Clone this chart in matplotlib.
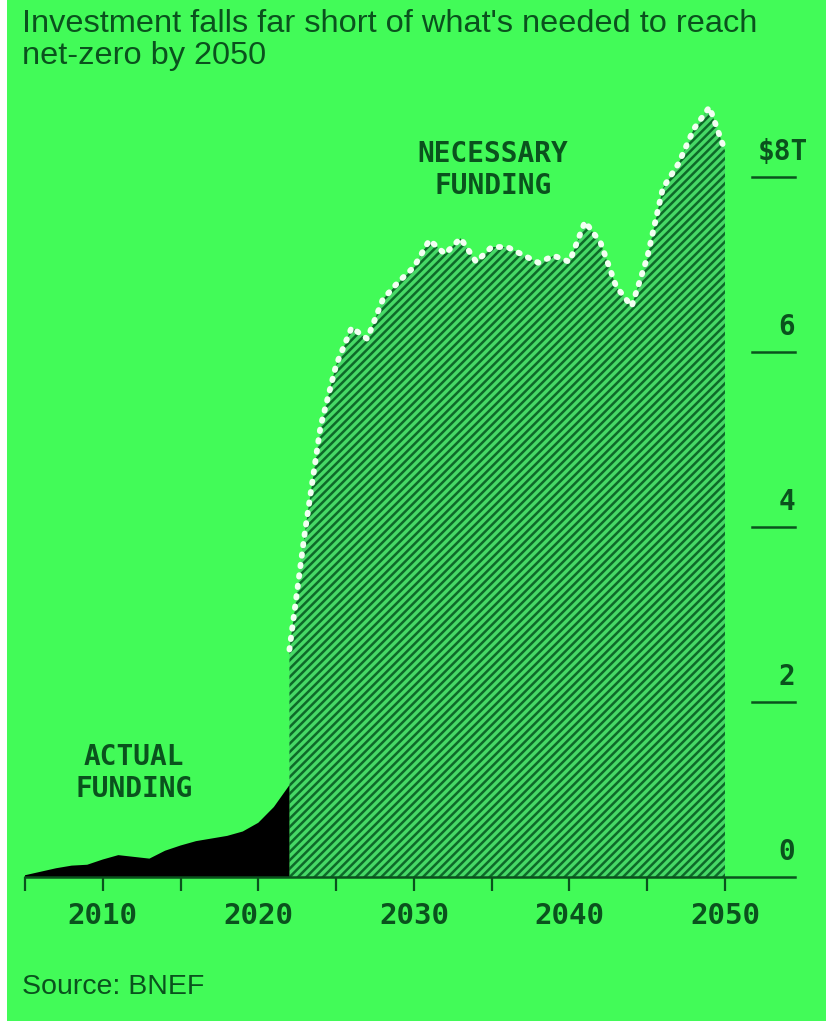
import matplotlib
matplotlib.use("Agg")
import matplotlib.pyplot as plt
from matplotlib.patches import Rectangle
from matplotlib.transforms import offset_copy

# Colours
BG = '#42fb58'
INK = '#0a521d'
HATCH_BG = '#46d966'
HATCH_INK = '#0d6a29'

# Data (trillions of USD)
actual_years = [2005, 2006, 2007, 2008, 2009, 2010, 2011, 2012, 2013, 2014,
                2015, 2016, 2017, 2018, 2019, 2020, 2021, 2022]
actual_values = [0.02, 0.06, 0.10, 0.13, 0.14, 0.20, 0.25, 0.23, 0.21, 0.30,
                 0.36, 0.41, 0.44, 0.47, 0.52, 0.62, 0.80, 1.05]

needed_years = [2022, 2023, 2024, 2025, 2026, 2027, 2028, 2029, 2030, 2031,
                2032, 2033, 2034, 2035, 2036, 2037, 2038, 2039, 2040, 2041,
                2042, 2043, 2044, 2045, 2046, 2047, 2048, 2049, 2050]
needed_values = [2.60, 3.95, 5.15, 5.85, 6.28, 6.15, 6.60, 6.80, 6.97, 7.28,
                 7.12, 7.30, 7.03, 7.20, 7.20, 7.11, 7.02, 7.10, 7.03, 7.49,
                 7.25, 6.75, 6.52, 7.08, 7.87, 8.15, 8.55, 8.80, 8.30]

x_ticks = [2005, 2010, 2015, 2020, 2025, 2030, 2035, 2040, 2045, 2050]
x_labels = ['', '2010', '', '2020', '', '2030', '', '2040', '', '2050']
y_ticks = [0, 2, 4, 6, 8]
y_labels = ['0', '2', '4', '6', '$8T']

plt.rcParams['hatch.color'] = HATCH_INK
plt.rcParams['hatch.linewidth'] = 1.8

W, H = 826, 1021
fig = plt.figure(figsize=(W / 100, H / 100), dpi=100, facecolor=BG)
fig.patches.append(Rectangle((0, 0), 7 / W, 1, transform=fig.transFigure,
                             facecolor='white', edgecolor='none', zorder=-1))

# axes: x 25..795 px, y 89.5..877 px
x_left, x_right, y_top, y_base = 25, 795, 89.5, 877
ax = fig.add_axes([x_left / W, 1 - y_base / H, (x_right - x_left) / W, (y_base - y_top) / H])
ax.set_facecolor(BG)
px_per_year = 700 / 45
ax.set_xlim(2005, 2005 + (x_right - x_left) / px_per_year)
ax.set_ylim(0, 9.0)

# filled areas
ax.fill_between(needed_years, 0, needed_values, facecolor=HATCH_BG,
                edgecolor=HATCH_INK, hatch='////', linewidth=0, zorder=2)
ax.fill_between(actual_years, 0, actual_values, facecolor='black',
                edgecolor='none', linewidth=0, zorder=3)
ax.plot(needed_years, needed_values, color='#f2fff2', linewidth=4.2,
        linestyle=(0, (0.25, 1.55)), dash_capstyle='round', zorder=4, clip_on=False)

# spines / ticks
for s in ['top', 'right', 'left']:
    ax.spines[s].set_visible(False)
ax.spines['bottom'].set_color(INK)
ax.spines['bottom'].set_linewidth(1.8)
ax.spines['bottom'].set_zorder(5)
ax.set_yticks([])
ax.set_xticks(x_ticks)
ax.set_xticklabels(x_labels)
ax.tick_params(axis='x', direction='out', length=10, width=1.6, color=INK,
               pad=8, labelsize=21, labelcolor=INK)
for lab in ax.get_xticklabels():
    lab.set_fontfamily('DejaVu Sans Mono')
    lab.set_fontweight('bold')

# right-hand value labels with short rules
x_end = ax.get_xlim()[1]
x_rule = 2005 + (752 - x_left) / px_per_year
for v, lab in zip(y_ticks, y_labels):
    if v > 0:
        ax.plot([x_rule, x_end], [v, v], color=INK, linewidth=1.8, clip_on=False)
    # the unit label hangs past the rule so its digit lines up with the others
    shift = 13 if lab.endswith('T') else 0
    tr = offset_copy(ax.transData, fig=fig, x=shift, y=0, units='dots')
    ax.text(x_end, v + 0.13, lab, ha='right', va='bottom', fontsize=20,
            color=INK, family='DejaVu Sans Mono', fontweight='bold',
            transform=tr, clip_on=False)

# annotations
ax.text(2035.1, 8.08, 'NECESSARY\nFUNDING', ha='center', va='center',
        multialignment='center', fontsize=20, color=INK,
        family='DejaVu Sans Mono', fontweight='bold', linespacing=1.15)
ax.text(2012.0, 1.19, 'ACTUAL\nFUNDING', ha='center', va='center',
        multialignment='center', fontsize=20, color=INK,
        family='DejaVu Sans Mono', fontweight='bold', linespacing=1.15)

# title and source
fig.text(22 / W, 1 - 9 / H, "Investment falls far short of what's needed to reach\nnet-zero by 2050",
         ha='left', va='top', fontsize=23.4, color=INK, family='Liberation Sans',
         linespacing=1.1)
fig.text(22 / W, 1 - 987 / H, 'Source: BNEF', ha='left', va='center',
         fontsize=20.5, color=INK, family='Liberation Sans')

fig.savefig('out.png', dpi=100, facecolor=BG)
